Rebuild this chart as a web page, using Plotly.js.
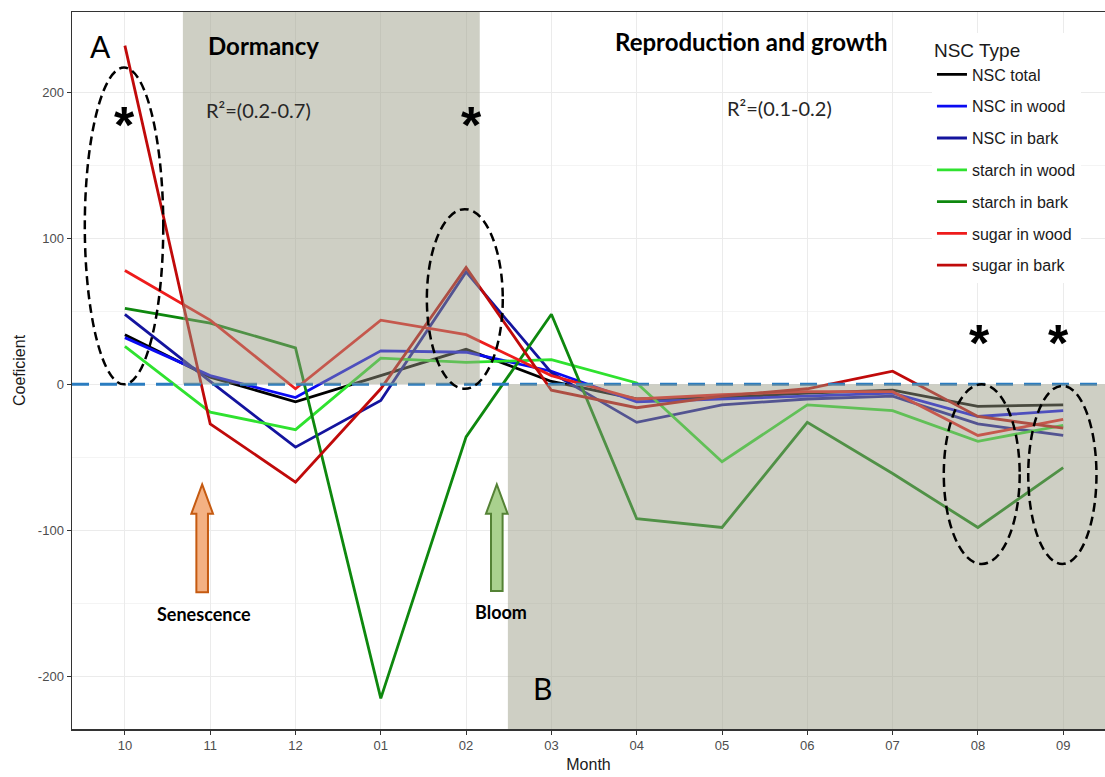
<!DOCTYPE html>
<html>
<head>
<meta charset="utf-8">
<script src="https://cdn.plot.ly/plotly-3.0.1.min.js"></script>
<style>
  html, body { margin: 0; padding: 0; background: #ffffff; }
  #chart { width: 1105px; height: 777px; }
</style>
</head>
<body>
<div id="chart"></div>
<script>
// Monthly regression coefficients of non-structural carbohydrates (NSC)
const months = ['10', '11', '12', '01', '02', '03', '04', '05', '06', '07', '08', '09'];

const nscTotal   = [34, 5, -12, 6, 24, 2, -10, -9, -6, -4, -15, -14];
const nscWood    = [32, 6, -9, 23, 22, 9, -12, -10, -8, -6, -22, -18];
const nscBark    = [48, 2, -43, -11, 77, 8, -26, -14, -10, -8, -27, -35];
const starchWood = [26, -19, -31, 18, 15, 17, 1, -53, -14, -18, -39, -28];
const starchBark = [52, 42, 25, -215, -36, 48, -92, -98, -26, -61, -98, -57];
const sugarWood  = [78, 44, -3, 44, 34, 6, -10, -7, -5, -5, -35, -24];
const sugarBark  = [232, -27, -67, -3, 80, -4, -16, -8, -3, 9, -22, -30];

const seriesNames  = ['NSC total', 'NSC in wood', 'NSC in bark', 'starch in wood',
                      'starch in bark', 'sugar in wood', 'sugar in bark'];
const seriesValues = [nscTotal, nscWood, nscBark, starchWood, starchBark, sugarWood, sugarBark];
const seriesColors = ['#000000', '#0a0af2', '#14149e', '#2fe22f', '#0e880e', '#ee1c1c', '#c00a0a'];

const xIdx = months.map((m, i) => i);

const traces = seriesNames.map((name, k) => ({
  type: 'scatter',
  mode: 'lines',
  name: name,
  legendgroup: 'g' + k,
  x: xIdx,
  y: seriesValues[k],
  line: { color: seriesColors[k], width: 2.8 },
  hoverinfo: 'x+y+name'
}));

// block arrow outline built around a centre x, pointing up
function blockArrow(cx, yTip, yHead, yBase, halfHead, halfShaft, fill, edge) {
  const p = [
    [cx - halfShaft, yBase], [cx - halfShaft, yHead], [cx - halfHead, yHead],
    [cx, yTip], [cx + halfHead, yHead], [cx + halfShaft, yHead], [cx + halfShaft, yBase]
  ];
  return {
    type: 'path', xref: 'x', yref: 'y', layer: 'above',
    path: 'M ' + p.map(q => q[0] + ',' + q[1]).join(' L ') + ' Z',
    fillcolor: fill, line: { color: edge, width: 2 }
  };
}

function ellipse(x0, x1, y0, y1) {
  return {
    type: 'circle', xref: 'x', yref: 'y', layer: 'above',
    x0: x0, x1: x1, y0: y0, y1: y1,
    line: { color: '#000000', width: 2.5, dash: '9px,5px' },
    fillcolor: 'rgba(0,0,0,0)'
  };
}

const shade = 'rgba(152,154,131,0.48)';

const shapes = [
  // zero reference line
  { type: 'line', xref: 'paper', yref: 'y', x0: 0, x1: 1, y0: 0, y1: 0, layer: 'above',
    line: { color: '#2a7cc0', width: 3, dash: '17px,11px' } },
  // dormancy period
  { type: 'rect', xref: 'x', yref: 'y', x0: 0.68, x1: 4.16, y0: 0, y1: 1000, layer: 'above',
    fillcolor: shade, line: { width: 0 } },
  // reproduction and growth period
  { type: 'rect', xref: 'x', yref: 'y', x0: 4.49, x1: 30, y0: -1000, y1: 0, layer: 'above',
    fillcolor: shade, line: { width: 0 } },
  ellipse(-0.47, 0.45, 0, 217),
  ellipse(3.54, 4.43, -3, 120),
  ellipse(9.6, 10.49, -123, 0),
  ellipse(10.59, 11.39, -123, -1),
  blockArrow(0.906, -68.5, -88.6, -142.3, 0.127, 0.068, '#f4b183', '#c55a11'),
  blockArrow(4.36, -68.5, -88.6, -141.5, 0.127, 0.068, '#a9d18e', '#548235')
];

const noteFont = 'Lato, "Open Sans", sans-serif';
function note(text, x, y, size, opts) {
  return Object.assign({
    text: text, x: x, y: y, xref: 'x', yref: 'y', showarrow: false,
    xanchor: 'center', yanchor: 'middle',
    font: { family: noteFont, size: size, color: '#000000' }
  }, opts || {});
}

const starFont = { family: '"Liberation Sans", Arial, sans-serif', size: 52, color: '#000000' };
const rFont = { family: noteFont, size: 20, color: '#262626' };
const annotations = [
  note('A', -0.29, 232, 30),
  note('B', 4.9, -208, 30),
  note('<b>Dormancy</b>', 1.62, 232, 24),
  note('<b>Reproduction and growth</b>', 7.35, 235, 24),
  note('R²=(0.2-0.7)', 1.57, 188, 20, { font: rFont }),
  note('R²=(0.1-0.2)', 7.67, 189, 20, { font: rFont }),
  note('<b>Senescence</b>', 0.93, -157.5, 18),
  note('<b>Bloom</b>', 4.41, -156, 18),
  note('<b>*</b>', 0, 177.5, 52, { font: starFont }),
  note('<b>*</b>', 4.06, 177.5, 52, { font: starFont }),
  note('<b>*</b>', 10.02, 28, 52, { font: starFont }),
  note('<b>*</b>', 10.95, 28, 52, { font: starFont })
];

const axisFont = '"Liberation Sans", Arial, sans-serif';

const layout = {
  width: 1105,
  height: 777,
  margin: { l: 72, r: 0, t: 12, b: 48, pad: 0 },
  paper_bgcolor: '#ffffff',
  plot_bgcolor: '#ffffff',
  font: { family: axisFont, color: '#333333' },
  showlegend: true,
  legend: {
    title: { text: 'NSC Type', font: { family: axisFont, size: 19, color: '#1a1a1a' } },
    font: { family: axisFont, size: 16, color: '#1a1a1a' },
    x: 0.8325, y: 0.971, xanchor: 'left', yanchor: 'top',
    bgcolor: '#ffffff', borderwidth: 0,
    traceorder: 'grouped', tracegroupgap: 8, itemwidth: 30
  },
  xaxis: {
    type: 'linear',
    range: [-0.62, 11.49],
    tickmode: 'array',
    tickvals: xIdx,
    ticktext: months,
    showgrid: true, gridcolor: '#ebebeb', gridwidth: 1,
    zeroline: false,
    showline: true, linecolor: '#333333', linewidth: 1.5, mirror: true,
    ticks: 'outside', ticklen: 4, tickcolor: '#333333',
    tickfont: { family: axisFont, size: 13, color: '#4d4d4d' },
    title: { text: 'Month', font: { family: axisFont, size: 16, color: '#1a1a1a' }, standoff: 6 }
  },
  yaxis: {
    range: [-236, 255],
    tickmode: 'array',
    tickvals: [-200, -100, 0, 100, 200],
    ticktext: ['-200', '-100', '0', '100', '200'],
    showgrid: true, gridcolor: '#ebebeb', gridwidth: 1,
    minor: { tickmode: 'array', tickvals: [-150, -50, 50, 150], showgrid: true, gridcolor: '#f4f4f4', gridwidth: 1 },
    zeroline: false,
    showline: true, linecolor: '#333333', linewidth: 1.5,
    ticks: 'outside', ticklen: 4, tickcolor: '#333333',
    tickfont: { family: axisFont, size: 13, color: '#4d4d4d' },
    title: { text: 'Coeficient', font: { family: axisFont, size: 16, color: '#1a1a1a' }, standoff: 8 }
  },
  shapes: shapes,
  annotations: annotations
};

Plotly.newPlot('chart', traces, layout, { displayModeBar: false, staticPlot: true });
</script>
</body>
</html>
